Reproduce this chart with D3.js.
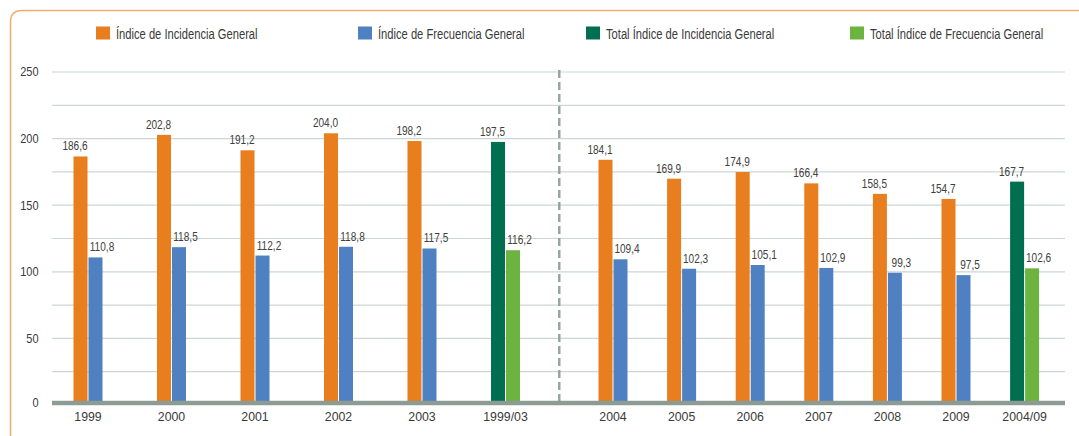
<!DOCTYPE html>
<html>
<head>
<meta charset="utf-8">
<script src="https://cdn.jsdelivr.net/npm/d3@7"></script>
<style>
  html, body { margin: 0; padding: 0; background: #fff; }
  svg { display: block; font-family: "Liberation Sans", Arial, sans-serif; }
</style>
</head>
<body>
<div id="chart"></div>
<script>
// categories
const periodA = ["1999", "2000", "2001", "2002", "2003", "1999/03"];
const periodB = ["2004", "2005", "2006", "2007", "2008", "2009", "2004/09"];
// series values (last entry of each period is the total)
const incidenciaA = [186.6, 202.8, 191.2, 204.0, 198.2, 197.5];
const frecuenciaA = [110.8, 118.5, 112.2, 118.8, 117.5, 116.2];
const incidenciaB = [184.1, 169.9, 174.9, 166.4, 158.5, 154.7, 167.7];
const frecuenciaB = [109.4, 102.3, 105.1, 102.9, 99.3, 97.5, 102.6];
const yTicks = [0, 50, 100, 150, 200, 250];
const legendLabels = [
  "Índice de Incidencia General",
  "Índice de Frecuencia General",
  "Total Índice de Incidencia General",
  "Total Índice de Frecuencia General"
];

const colors = ["#e87e1e", "#4f81c2", "#006f4f", "#6db33f"];

const width = 1079, height = 436;

let svg = d3.select("#chart").append("svg")
  .attr("width", width)
  .attr("height", height);

// the source uses a condensed face, squeeze text horizontally
function squeeze(x, y, k) {
  return "translate(" + x + "," + y + ") scale(" + k + ",1)";
}

// frame (top + left with rounded corner)
svg.append("path")
  .attr("d", "M10.5,436 L10.5,22 Q10.5,10.5 22,10.5 L1079,10.5")
  .attr("fill", "none")
  .attr("stroke", "#f3ad6f")
  .attr("stroke-width", 1.5);

let y = d3.scaleLinear().domain([0, 250]).range([405, 72]);

let xA = d3.scaleBand().domain(periodA).range([46.25, 547.25]);
let xB = d3.scaleBand().domain(periodB).range([578.7, 1058.9]);

const gridLeft = 52, gridRight = 1065;

// gridlines every 25
svg.append("g")
  .selectAll("line")
  .data(d3.range(25, 251, 25))
  .enter().append("line")
  .attr("x1", gridLeft).attr("x2", gridRight)
  .attr("y1", d => y(d)).attr("y2", d => y(d))
  .attr("stroke", "#ccd7d3")
  .attr("stroke-width", 1.2);

// y labels
svg.append("g")
  .selectAll("text")
  .data(yTicks)
  .enter().append("text")
  .attr("transform", d => squeeze(38.5, d === 0 ? 403 : y(d), 0.88))
  .attr("dy", "0.35em")
  .attr("text-anchor", "end")
  .attr("font-size", 12.5)
  .attr("fill", "#3a3a3a")
  .text(d => d);

// separator
svg.append("line")
  .attr("x1", 559.3).attr("x2", 559.3)
  .attr("y1", 70).attr("y2", 401)
  .attr("stroke", "#94a39b")
  .attr("stroke-width", 2.4)
  .attr("stroke-dasharray", "8,4");

const fmt = v => d3.format(".1f")(v).replace(".", ",");

function drawPeriod(cats, inc, frec, x) {
  let rows = cats.map((c, i) => ({
    cat: c, inc: inc[i], frec: frec[i], total: i === cats.length - 1
  }));
  let g = svg.append("g");
  let center = d => x(d.cat) + x.bandwidth() / 2;

  g.selectAll(".inc").data(rows).enter().append("rect")
    .attr("x", d => center(d) - 14.5)
    .attr("width", 14)
    .attr("y", d => y(d.inc))
    .attr("height", d => y(0) - y(d.inc))
    .attr("fill", d => d.total ? colors[2] : colors[0]);

  g.selectAll(".frec").data(rows).enter().append("rect")
    .attr("x", d => center(d) + 0.5)
    .attr("width", 14)
    .attr("y", d => y(d.frec))
    .attr("height", d => y(0) - y(d.frec))
    .attr("fill", d => d.total ? colors[3] : colors[1]);

  g.selectAll(".lab-inc").data(rows).enter().append("text")
    .attr("transform", d => squeeze(center(d) - 13, y(d.inc) - 6, 0.84))
    .attr("text-anchor", "middle")
    .attr("font-size", 12)
    .attr("fill", "#404040")
    .text(d => fmt(d.inc));

  g.selectAll(".lab-frec").data(rows).enter().append("text")
    .attr("transform", d => squeeze(center(d) + 14, y(d.frec) - 6, 0.84))
    .attr("text-anchor", "middle")
    .attr("font-size", 12)
    .attr("fill", "#404040")
    .text(d => fmt(d.frec));

  g.selectAll(".cat").data(rows).enter().append("text")
    .attr("transform", d => squeeze(center(d), 420.5, 0.95))
    .attr("text-anchor", "middle")
    .attr("font-size", 13)
    .attr("fill", "#3a3a3a")
    .text(d => d.cat);
}

drawPeriod(periodA, incidenciaA, frecuenciaA, xA);
drawPeriod(periodB, incidenciaB, frecuenciaB, xB);

// baseline band
svg.append("line")
  .attr("x1", gridLeft).attr("x2", gridRight)
  .attr("y1", 403).attr("y2", 403)
  .attr("stroke", "#8c9b93")
  .attr("stroke-width", 4.6);

// legend
const legendX = [96, 358, 586, 850];
let legend = svg.append("g")
  .selectAll("g")
  .data(legendLabels)
  .enter().append("g")
  .attr("transform", (d, i) => "translate(" + legendX[i] + ",26.5)");

legend.append("rect")
  .attr("width", 14).attr("height", 13)
  .attr("fill", (d, i) => colors[i]);

legend.append("text")
  .attr("transform", squeeze(20, 12.5, 0.745))
  .attr("font-size", 15)
  .attr("fill", "#3a3a3a")
  .text(d => d);
</script>
</body>
</html>
